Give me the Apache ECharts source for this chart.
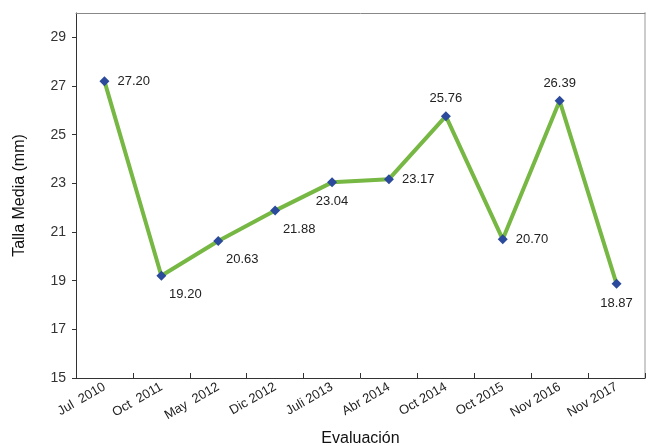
<!DOCTYPE html>
<html><head><meta charset="utf-8">
<script src="https://cdn.jsdelivr.net/npm/echarts@6/dist/echarts.min.js"></script>
<style>html,body{margin:0;padding:0;background:#fff}#c{width:649px;height:446px}</style>
</head><body><div id="c"></div>
<script>
const categories = ['Jul  2010','Oct  2011','May  2012','Dic 2012','Juli 2013','Abr 2014','Oct 2014','Oct 2015','Nov 2016','Nov 2017'];
const values = [27.20, 19.20, 20.63, 21.88, 23.04, 23.17, 25.76, 20.70, 26.39, 18.87];
const labelPositions = ['right','bottomRight','bottomRight','bottomRight','bottom','right','top','right','top','bottom'];
const yTicks = [15,17,19,21,23,25,27,29];

const posMap = {
  right: {position:'right', distance:8},
  top: {position:'top', distance:6},
  bottom: {position:'bottom', distance:8},
  bottomRight: {position:'bottom', offset:[24,2]}
};
const chart = echarts.init(document.getElementById('c'));
chart.setOption({
  animation:false,
  textStyle:{fontFamily:'Liberation Sans, Arial, sans-serif'},
  grid:{left:76,right:4,top:13,bottom:68,outerBoundsMode:'none',containLabel:false},
  xAxis:[{
    type:'category', data:categories, boundaryGap:true,
    name:'Evaluación', nameLocation:'middle', nameGap:53,
    nameTextStyle:{fontSize:16,color:'#111'},
    axisLine:{lineStyle:{color:'#333',width:1}},
    axisTick:{show:true,inside:true,length:5,lineStyle:{color:'#333'}},
    axisLabel:{rotate:30,fontSize:13,color:'#222',margin:8}
  },{
    type:'category', data:categories, position:'top',
    axisLine:{lineStyle:{color:'#888',width:1}},
    axisTick:{show:false}, axisLabel:{show:false}
  }],
  yAxis:[{
    type:'value', min:15, max:30,
    name:'Talla Media (mm)', nameLocation:'middle', nameGap:48,
    nameTextStyle:{fontSize:16,color:'#111'},
    axisLine:{show:true,lineStyle:{color:'#333',width:1}},
    axisTick:{show:true,length:4,customValues:yTicks,lineStyle:{color:'#333'}},
    axisLabel:{fontSize:14,color:'#333',margin:10,customValues:yTicks},
    splitLine:{show:false}
  },{
    type:'value', min:15, max:30, position:'right',
    axisLine:{show:true,lineStyle:{color:'#ccc',width:2}},
    axisTick:{show:false}, axisLabel:{show:false}, splitLine:{show:false}
  }],
  series:[{
    type:'line',
    data:values.map((v,i)=>({value:v,label:Object.assign({show:true},posMap[labelPositions[i]])})),
    lineStyle:{color:'#76b843',width:4},
    symbol:'diamond', symbolSize:10,
    itemStyle:{color:'#2b4a9b'},
    label:{show:true,fontSize:13,color:'#222',formatter:p=>p.value.toFixed(2)},
    z:3
  }]
});
</script></body></html>
